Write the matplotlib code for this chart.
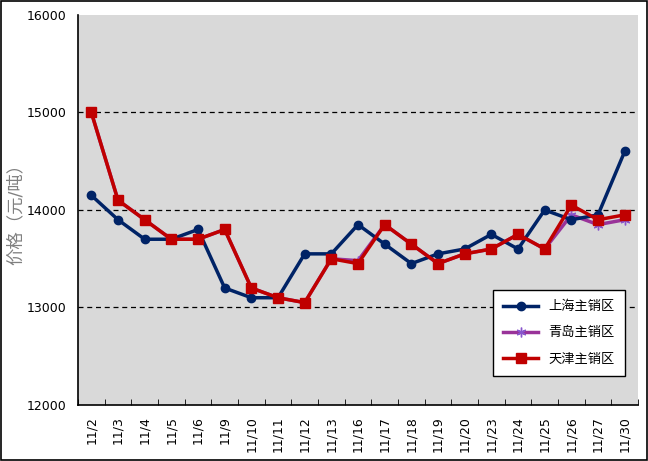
import matplotlib
matplotlib.use('Agg')
import matplotlib.pyplot as plt
import numpy as np

plt.rcParams['font.family'] = ['DejaVu Sans', 'Noto Sans CJK SC']

# 日期和价格（元/吨）
fechas = ['11/2', '11/3', '11/4', '11/5', '11/6', '11/9', '11/10', '11/11', '11/12',
          '11/13', '11/16', '11/17', '11/18', '11/19', '11/20', '11/23', '11/24',
          '11/25', '11/26', '11/27', '11/30']
shanghai = [14150, 13900, 13700, 13700, 13800, 13200, 13100, 13100, 13550, 13550,
            13850, 13650, 13450, 13550, 13600, 13750, 13600, 14000, 13900, 13950, 14600]
qingdao = [15000, 14100, 13900, 13700, 13700, 13800, 13200, 13100, 13050, 13500,
           13480, 13850, 13650, 13450, 13550, 13600, 13750, 13600, 13950, 13850, 13900]
tianjin = [15000, 14100, 13900, 13700, 13700, 13800, 13200, 13100, 13050, 13500,
           13450, 13850, 13650, 13450, 13550, 13600, 13750, 13600, 14050, 13900, 13950]

x = np.arange(len(fechas))

fig = plt.figure(figsize=(6.48, 4.61), dpi=100)
fig.patch.set_facecolor('white')
fig.patches.append(plt.Rectangle((0.002, 0.002), 0.996, 0.995, transform=fig.transFigure,
                                 fill=False, edgecolor='black', linewidth=1.2))
ax = fig.add_axes([0.1204, 0.1215, 0.8642, 0.846])
ax.set_facecolor('#D9D9D9')

ax.plot(x, shanghai, color='#002366', linewidth=2.5, marker='o', markersize=6,
        label='上海主销区', zorder=3)
ax.plot(x, qingdao, color='#993399', linewidth=2.5, marker=(6, 2, 0), markersize=7,
        markeredgecolor='#8855CC', markeredgewidth=1, label='青岛主销区', zorder=2)
ax.plot(x, tianjin, color='#C00000', linewidth=2.5, marker='s', markersize=6.5,
        label='天津主销区', zorder=4)

ax.set_xlim(-0.5, len(fechas) - 0.5)
ax.set_ylim(12000, 16000)
ax.set_yticks([12000, 13000, 14000, 15000, 16000])
ax.set_yticklabels(['12000', '13000', '14000', '15000', '16000'], fontsize=9)
ax.set_xticks(x)
ax.set_xticklabels(fechas, rotation=90, fontsize=9)
ax.tick_params(axis='x', length=0, pad=8)
ax.set_xticks(np.arange(len(fechas) + 1) - 0.5, minor=True)
ax.tick_params(axis='x', which='minor', direction='in', length=4)
ax.tick_params(axis='y', length=0, pad=8)

for v in [13000, 14000, 15000]:
    ax.axhline(v, color='black', linestyle=(0, (4, 3)), linewidth=0.9, zorder=1)

ax.spines['top'].set_visible(False)
ax.spines['right'].set_visible(False)
ax.spines['left'].set_linewidth(1.2)
ax.spines['bottom'].set_linewidth(1.2)

ax.set_ylabel('价格（元/吨）', color='#808080', fontsize=12.5, labelpad=2)

leg = ax.legend(loc='lower right', bbox_to_anchor=(0.977, 0.074), borderaxespad=0,
                fontsize=9.5, frameon=True, fancybox=False, edgecolor='black',
                framealpha=1, borderpad=0.8, labelspacing=1.0, handlelength=2.6)
leg.get_frame().set_linewidth(1)

plt.savefig('out.png', dpi=100, facecolor='white')
